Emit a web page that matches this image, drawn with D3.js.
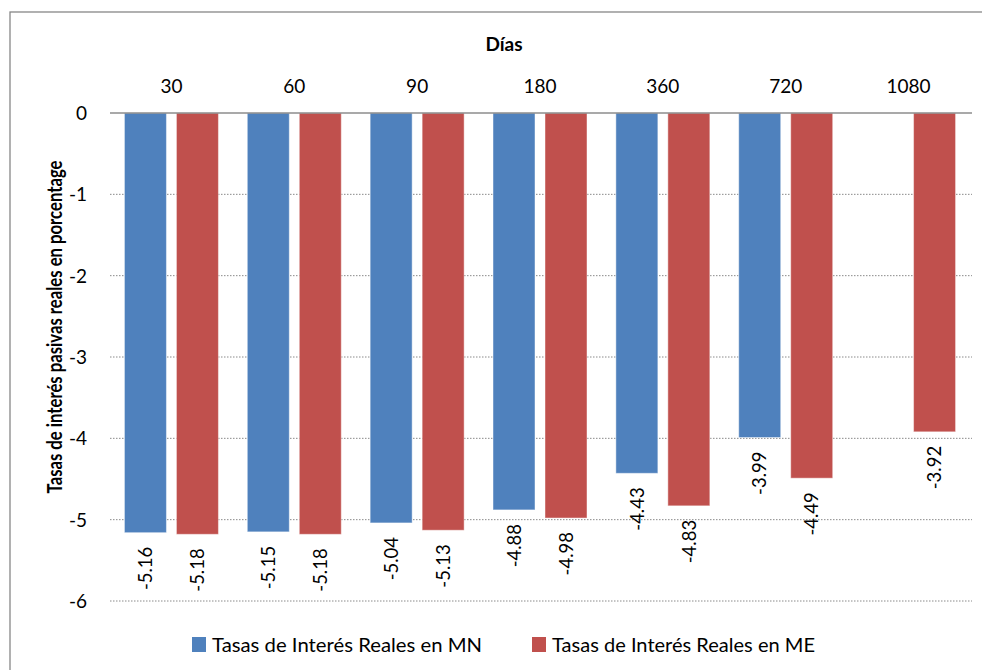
<!DOCTYPE html>
<html><head><meta charset="utf-8">
<script src="https://cdn.jsdelivr.net/npm/d3@7"></script>
<style>body{margin:0;background:#fff}svg{display:block}text{font-family:Lato,"Open Sans",sans-serif;fill:#000}</style>
</head><body><svg id="c" width="982" height="670"></svg>
<script>
const categories = ["30","60","90","180","360","720","1080"];
const seriesNames = ["Tasas de Interés Reales en MN","Tasas de Interés Reales en ME"];
const valuesMN = [-5.16,-5.15,-5.04,-4.88,-4.43,-3.99,null];
const valuesME = [-5.18,-5.18,-5.13,-4.98,-4.83,-4.49,-3.92];
const yTicks = [0,-1,-2,-3,-4,-5,-6];
const colors = ["#4F81BD","#C0504D"];
const xTitle = "Días";
const yTitle = "Tasas de interés pasivas  reales en porcentage";

const svg = d3.select("#c");
const L=110, R=970, T=113, B=601;
svg.append("rect").attr("x",10).attr("y",12).attr("width",1000).attr("height",700)
  .attr("fill","#fff").attr("stroke","#878787").attr("stroke-width",1.3);

const x = d3.scaleBand().domain(categories).range([L,R]).paddingInner(0.235).paddingOuter(0.1175);
const xs = d3.scaleBand().domain([0,1]).range([0,x.bandwidth()]).paddingInner(0.1923);
const y = d3.scaleLinear().domain([0,-6]).range([T,B]);

// gridlines
svg.append("g").selectAll("line").data(yTicks.filter(d=>d!==0)).join("line")
  .attr("x1",L).attr("x2",972).attr("y1",d=>y(d)).attr("y2",d=>y(d))
  .attr("stroke","#8a8a8a").attr("stroke-width",1).attr("stroke-dasharray","1.5,1.5");

// y tick labels
svg.append("g").selectAll("text").data(yTicks).join("text")
  .attr("x",87).attr("y",d=>y(d)).attr("dy","0.36em").attr("text-anchor","end")
  .attr("font-size",19).text(d=>d);

// bars
const series = [valuesMN, valuesME];
series.forEach((vals,si)=>{
  const g = svg.append("g");
  const data = categories.map((c,i)=>({c,v:vals[i]})).filter(d=>d.v!==null);
  g.selectAll("rect").data(data).join("rect")
    .attr("x",d=>x(d.c)+xs(si)).attr("width",xs.bandwidth())
    .attr("y",y(0)).attr("height",d=>y(d.v)-y(0))
    .attr("fill",colors[si]).attr("stroke","rgba(255,255,255,0.45)").attr("stroke-width",1);
  g.selectAll("text").data(data).join("text")
    .attr("transform",d=>`translate(${x(d.c)+xs(si)+xs.bandwidth()/2},${y(d.v)+14}) rotate(-90)`)
    .attr("text-anchor","end").attr("dy","0.36em").attr("font-size",18.5)
    .text(d=>d.v.toFixed(2));
});

// zero axis line
svg.append("line").attr("x1",L).attr("x2",972).attr("y1",y(0)).attr("y2",y(0))
  .attr("stroke","#8c8c8c").attr("stroke-width",1.5);

// category labels (top)
svg.append("g").selectAll("text").data(categories).join("text")
  .attr("x",d=>x(d)+x.bandwidth()/2).attr("y",93).attr("text-anchor","middle")
  .attr("font-size",19).text(d=>d);

// titles
svg.append("text").attr("x",504).attr("y",51).attr("text-anchor","middle")
  .attr("font-size",19).attr("font-weight","bold").text(xTitle);
svg.append("text").attr("transform","translate(54.5,327) rotate(-90)").attr("text-anchor","middle")
  .attr("dy","0.36em").attr("font-size",20.5).attr("font-weight","bold")
  .attr("textLength",333).attr("lengthAdjust","spacingAndGlyphs").text(yTitle);

// legend
const leg = [{x:192,tx:212,w:270},{x:532,tx:552,w:263}];
leg.forEach((l,i)=>{
  svg.append("rect").attr("x",l.x).attr("y",637).attr("width",14).attr("height",15).attr("fill",colors[i]);
  svg.append("text").attr("x",l.tx).attr("y",652).attr("font-size",19)
    .attr("textLength",l.w).attr("lengthAdjust","spacingAndGlyphs").text(seriesNames[i]);
});
</script></body></html>
